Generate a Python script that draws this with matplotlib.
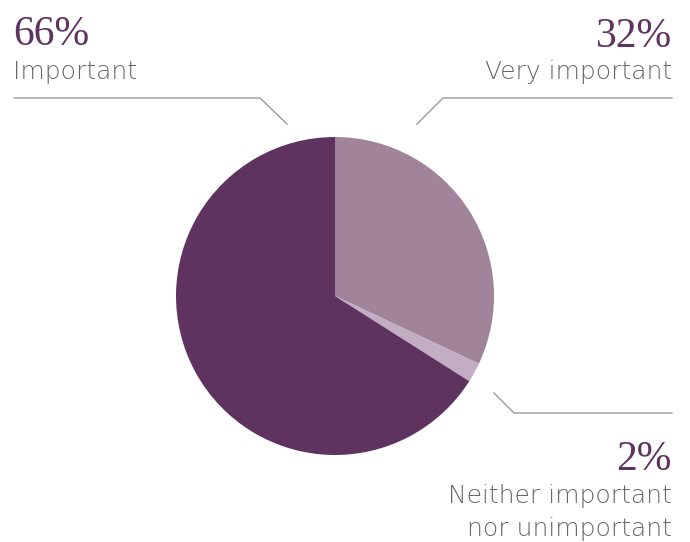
import matplotlib
matplotlib.use("Agg")
import matplotlib.pyplot as plt

categories = ["Very important", "Neither important\nnor unimportant", "Important"]
values = [32, 2, 66]
pct_labels = ["32%", "2%", "66%"]
colors = ["#a08499", "#c2adc2", "#5e3360"]

W, H = 690, 542
fig = plt.figure(figsize=(W / 100, H / 100), dpi=100)
ax = fig.add_axes([0, 0, 1, 1])
ax.set_xlim(0, W)
ax.set_ylim(0, H)
ax.set_aspect("equal")
ax.axis("off")

def Y(y):
    return H - y

ax.pie(values, colors=colors, startangle=90, counterclock=False,
       center=(335, Y(296)), radius=159, wedgeprops=dict(linewidth=0))
ax.set_xlim(0, W)
ax.set_ylim(0, H)

num_color = "#5e3360"
lab_color = "#686868"
line_color = "#9a9a9a"
num_font = dict(family="Liberation Serif", fontsize=30, color=num_color)
lab_font = dict(family="DejaVu Sans", fontsize=18, color=lab_color,
                fontweight="light")

# Important (left top)
ax.text(13, Y(45), pct_labels[2], ha="left", va="baseline", **num_font)
ax.text(13, Y(79), categories[2], ha="left", va="baseline", **lab_font)
ax.plot([14, 260, 287], [Y(98), Y(98), Y(124)], color=line_color, lw=1)

# Very important (right top)
ax.text(672, Y(47), pct_labels[0], ha="right", va="baseline", **num_font)
ax.text(672, Y(79), categories[0], ha="right", va="baseline", **lab_font)
ax.plot([672, 443, 417], [Y(98), Y(98), Y(124)], color=line_color, lw=1)

# Neither (right bottom)
ax.text(672, Y(470), pct_labels[1], ha="right", va="baseline", **num_font)
ax.text(672, Y(503), "Neither important", ha="right", va="baseline", **lab_font)
ax.text(672, Y(536), "nor unimportant", ha="right", va="baseline", **lab_font)
ax.plot([672, 514, 494], [Y(413), Y(413), Y(393)], color=line_color, lw=1)

fig.savefig("out.png", dpi=100)
